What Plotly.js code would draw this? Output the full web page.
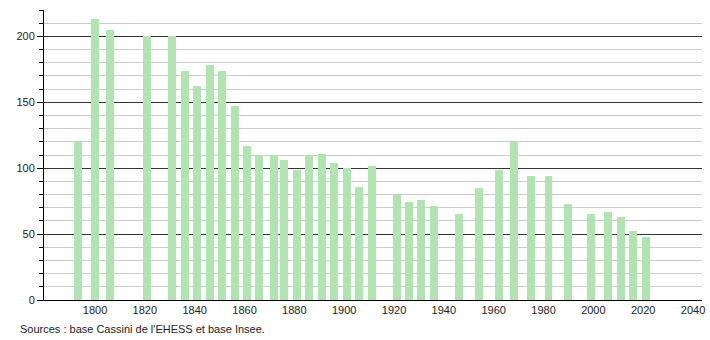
<!DOCTYPE html>
<html>
<head>
<meta charset="utf-8">
<script src="https://cdn.plot.ly/plotly-3.0.1.min.js"></script>
<style>html,body{margin:0;padding:0;background:#fff;}#chart{width:710px;height:340px;}</style>
</head>
<body>
<div id="chart"></div>
<script>
const years = [1793,1800,1806,1821,1831,1836,1841,1846,1851,1856,1861,1866,1872,1876,1881,1886,1891,1896,1901,1906,1911,1921,1926,1931,1936,1946,1954,1962,1968,1975,1982,1990,1999,2006,2011,2016,2021];
const population = [120,213,205,200,200,174,162,178,174,147,117,110,110,106,99,110,111,104,100,86,102,80,74,76,71,65,85,99,120,94,94,73,65,67,63,52,48];
const xTicks = [1800,1820,1840,1860,1880,1900,1920,1940,1960,1980,2000,2020,2040];
const sourceText = "Sources : base Cassini de l'EHESS et base Insee.";

const trace = {
  type: 'bar',
  x: years,
  y: population,
  width: 3.2,
  marker: {color: 'rgb(176,228,176)', line: {width: 0}},
  hoverinfo: 'x+y'
};

const layout = {
  width: 710, height: 340,
  margin: {l: 44, r: 8, t: 10, b: 40},
  paper_bgcolor: '#fff', plot_bgcolor: '#fff',
  font: {family: 'Liberation Sans, Arial, sans-serif', size: 11, color: '#222'},
  showlegend: false,
  bargap: 0,
  xaxis: {
    range: [1779.53, 2043.6],
    tickvals: xTicks,
    ticktext: xTicks.map(String),
    showgrid: false,
    zeroline: false,
    showline: true, linecolor: '#000', linewidth: 1,
    ticks: '', tickfont: {size: 11, color: '#222'}
  },
  yaxis: {
    range: [0, 220],
    dtick: 50, tick0: 0,
    showgrid: true, gridcolor: '#333', gridwidth: 1,
    zeroline: false,
    showline: true, linecolor: '#000', linewidth: 1,
    ticks: 'outside', ticklen: 6, tickcolor: '#000',
    tickfont: {size: 11, color: '#222'},
    minor: {dtick: 10, showgrid: true, gridcolor: '#ccc', gridwidth: 1, ticks: 'outside', ticklen: 4, tickcolor: '#000'}
  },
  annotations: [{
    text: sourceText, xref: 'paper', yref: 'paper',
    x: -0.04, y: -0.072, xanchor: 'left', yanchor: 'top',
    showarrow: false, font: {size: 11, color: '#222'}
  }]
};

Plotly.newPlot('chart', [trace], layout, {displayModeBar: false, staticPlot: true});
</script>
</body>
</html>
